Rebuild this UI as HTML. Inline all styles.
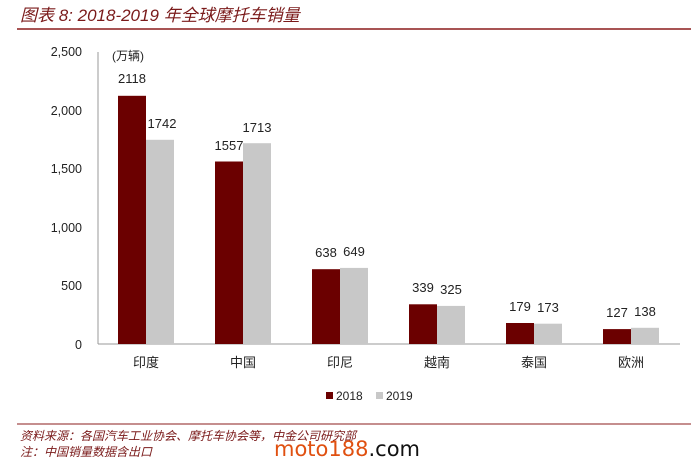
<!DOCTYPE html>
<html><head><meta charset="utf-8"><style>
body{margin:0;background:#fff;width:691px;height:470px;overflow:hidden;font-family:"Liberation Sans","Noto Sans CJK SC",sans-serif}
</style></head><body>
<svg width="691" height="470" xmlns="http://www.w3.org/2000/svg" font-family="Liberation Sans, Noto Sans CJK SC, sans-serif">
<text x="20" y="21" font-size="17" font-style="italic" fill="#7a1a1a">图表 8: 2018-2019 年全球摩托车销量</text>
<line x1="17" y1="29" x2="691" y2="29" stroke="#8b1c1c" stroke-width="1.5"/>
<g font-size="12.5" fill="#222" text-anchor="end">
<text x="82" y="56">2,500</text><text x="82" y="115">2,000</text><text x="82" y="173">1,500</text>
<text x="82" y="232">1,000</text><text x="82" y="290">500</text><text x="82" y="349">0</text>
</g>
<text x="112" y="60" font-size="12" fill="#222">(万辆)</text>
<line x1="98" y1="52" x2="98" y2="344" stroke="#999"/>
<line x1="98" y1="344" x2="680" y2="344" stroke="#999"/>
<g>
<rect x="118" y="95.8" width="28" height="248.2" fill="#6b0000"/><rect x="146" y="139.8" width="28" height="204.2" fill="#c8c8c8"/>
<rect x="215" y="161.5" width="28" height="182.5" fill="#6b0000"/><rect x="243" y="143.2" width="28" height="200.8" fill="#c8c8c8"/>
<rect x="312" y="269.2" width="28" height="74.8" fill="#6b0000"/><rect x="340" y="267.9" width="28" height="76.1" fill="#c8c8c8"/>
<rect x="409" y="304.3" width="28" height="39.7" fill="#6b0000"/><rect x="437" y="305.9" width="28" height="38.1" fill="#c8c8c8"/>
<rect x="506" y="323" width="28" height="21" fill="#6b0000"/><rect x="534" y="323.7" width="28" height="20.3" fill="#c8c8c8"/>
<rect x="603" y="329.1" width="28" height="14.9" fill="#6b0000"/><rect x="631" y="327.8" width="28" height="16.2" fill="#c8c8c8"/>
</g>
<g font-size="13" fill="#222" text-anchor="middle">
<text x="132" y="83">2118</text><text x="162" y="128">1742</text>
<text x="229" y="150">1557</text><text x="257" y="132">1713</text>
<text x="326" y="257">638</text><text x="354" y="256">649</text>
<text x="423" y="292">339</text><text x="451" y="294">325</text>
<text x="520" y="311">179</text><text x="548" y="312">173</text>
<text x="617" y="317">127</text><text x="645" y="316">138</text>
</g>
<g font-size="13" fill="#222" text-anchor="middle">
<text x="146" y="367">印度</text><text x="243" y="367">中国</text><text x="340" y="367">印尼</text>
<text x="437" y="367">越南</text><text x="534" y="367">泰国</text><text x="631" y="367">欧洲</text>
</g>
<rect x="326" y="392" width="7" height="7" fill="#6b0000"/><text x="336" y="400" font-size="12" fill="#222">2018</text>
<rect x="376" y="392" width="7" height="7" fill="#c8c8c8"/><text x="386" y="400" font-size="12" fill="#222">2019</text>
<line x1="17" y1="424" x2="691" y2="424" stroke="#8b1c1c" stroke-width="1"/>
<text x="20" y="440" font-size="12" font-style="italic" fill="#7a1a1a">资料来源：各国汽车工业协会、摩托车协会等，中金公司研究部</text>
<text x="20" y="456" font-size="12" font-style="italic" fill="#7a1a1a">注：中国销量数据含出口</text>
<text x="274" y="456" font-size="21" fill="#e05010" font-family="DejaVu Sans, sans-serif">moto188<tspan fill="#111">.com</tspan></text>
</svg>
</body></html>
